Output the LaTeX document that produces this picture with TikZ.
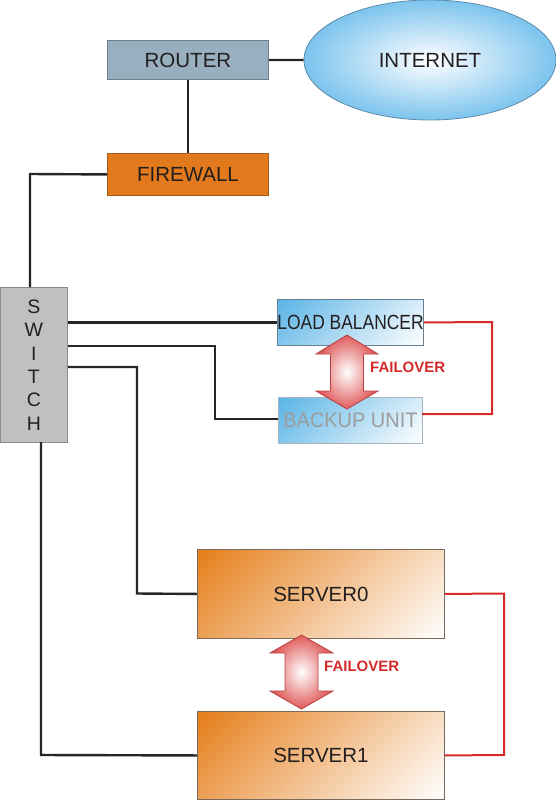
\documentclass[tikz,border=0pt]{standalone}
\usepackage{fontspec}
\setmainfont{Liberation Sans}
\usepackage{graphicx}
\usetikzlibrary{shapes.geometric}
\definecolor{routerfill}{HTML}{98AFC0}
\definecolor{routerdraw}{HTML}{6E7F8C}
\definecolor{fwfill}{HTML}{E2791C}
\definecolor{fwdraw}{HTML}{A65A1A}
\definecolor{swfill}{HTML}{C0C0C0}
\definecolor{swdraw}{HTML}{8A8A8A}
\definecolor{netblue}{HTML}{7CC4EE}
\definecolor{netdraw}{HTML}{5C8AA8}
\definecolor{lbblue}{HTML}{5AB4E6}
\definecolor{lbdraw}{HTML}{6A7F90}
\definecolor{budraw}{HTML}{A8B4BC}
\definecolor{srvorange}{HTML}{E57E1A}
\definecolor{srvdraw}{HTML}{7A6A5A}
\definecolor{linkred}{HTML}{D42A2A}
\definecolor{arrowred}{HTML}{E05A5A}
\definecolor{arrowdraw}{HTML}{B84040}
\definecolor{txt}{HTML}{231F20}
\definecolor{butxt}{HTML}{9C9C9C}
\pgfdeclareverticalshading{srvshade}{100bp}{color(0bp)=(white); color(14.6bp)=(white); color(85.4bp)=(srvorange); color(100bp)=(srvorange)}
\pgfdeclareverticalshading{lbshade}{100bp}{color(0bp)=(white); color(14.6bp)=(white); color(85.4bp)=(lbblue); color(100bp)=(lbblue)}
\tikzset{
  box/.style={rectangle, draw, line width=0.9pt, inner sep=0pt, anchor=north west, text=txt, font=\fontsize{20.5}{24}\selectfont},
  link/.style={line width=2.4pt, black!85},
  redlink/.style={line width=2pt, linkred},
  failarrow/.style={draw=arrowdraw, line width=0.8pt, inner color=white, outer color=arrowred},
  failtext/.style={text=linkred, font=\bfseries\fontsize{15}{18}\selectfont, anchor=west, inner sep=0pt},
  srvbox/.style={box, draw=srvdraw, shading=srvshade, shading angle=45, minimum width=247pt},
  blubox/.style={box, shading=lbshade, shading angle=45, minimum height=46pt}
}
\begin{document}
\begin{tikzpicture}[x=1pt,y=-1pt]
\useasboundingbox (0,0) rectangle (555,800);
% nodes
\node[ellipse, draw=netdraw, line width=0.8pt, inner color=white, outer color=netblue,
      minimum width=252pt, minimum height=120pt, inner sep=0pt, text=txt,
      font=\fontsize{20.5}{24}\selectfont] (internet) at (430,60) {INTERNET};
\node[box, fill=routerfill, draw=routerdraw, minimum width=161pt, minimum height=39pt] (router) at (107,40) {ROUTER};
\node[box, fill=fwfill, draw=fwdraw, minimum width=161pt, minimum height=42pt] (firewall) at (107,153) {FIREWALL};
\node[box, fill=swfill, draw=swdraw, minimum width=67pt, minimum height=155pt, align=center,
      font=\fontsize{19.5}{23.4}\selectfont] (switch) at (0,287) {S\\W\\I\\T\\C\\H};
\node[blubox, draw=lbdraw, minimum width=143pt] (lb) at (277,299)
      {\scalebox{0.85}[1]{LOAD BALANCER}};
\node[blubox, draw=budraw, minimum width=144pt, text=butxt, font=\fontsize{21}{24}\selectfont] (bu) at (278,397)
      {\scalebox{0.95}[1]{BACKUP UNIT}};
\node[srvbox, minimum height=89pt] (s0) at (197,549) {SERVER0};
\node[srvbox, minimum height=88pt] (s1) at (197,711) {SERVER1};
\node[failtext] (f1) at (370,367) {FAILOVER};
\node[failtext] (f2) at (324,666) {FAILOVER};
% bend coordinates
\coordinate (fwbend) at (30,174);
\coordinate (swtop) at (30,287);
\coordinate (b2a) at (215,346);
\coordinate (b2b) at (215,419);
\coordinate (b3a) at (137,367);
\coordinate (b3b) at (137,593.5);
\coordinate (swbot) at (41,442);
\coordinate (b4) at (41,755);
\coordinate (r1a) at (492,322);
\coordinate (r1b) at (492,414);
\coordinate (bur) at (422,414);
\coordinate (r2a) at (504,593.5);
\coordinate (r2b) at (504,755);
% black links
\draw[link] (router.east) -- (internet.west);
\draw[link] (router.south) -- (firewall.north);
\draw[link] (firewall.west) -- (fwbend) -- (swtop);
\draw[link] (lb.west) -- (lb.west -| switch.east);
\draw[link] (switch.east |- b2a) -- (b2a) -- (b2b) -- (bu.west |- b2b);
\draw[link] (switch.east |- b3a) -- (b3a) -- (b3b) -- (s0.west);
\draw[link] (swbot) -- (b4) -- (s1.west);
% red links
\draw[redlink] (lb.east) -- (r1a) -- (r1b) -- (bur);
\draw[redlink] (s0.east) -- (r2a) -- (r2b) -- (s1.east);
% failover arrows
\draw[failarrow] (347,335) -- (378,354) -- (363.5,354) -- (363.5,391) -- (378,391) -- (347,409)
  -- (316,391) -- (330.5,391) -- (330.5,354) -- (316,354) -- cycle;
\draw[failarrow] (301.5,635) -- (333,653) -- (318,653) -- (318,691) -- (333,691) -- (301.5,709)
  -- (270,691) -- (285,691) -- (285,653) -- (270,653) -- cycle;
\end{tikzpicture}
\end{document}
